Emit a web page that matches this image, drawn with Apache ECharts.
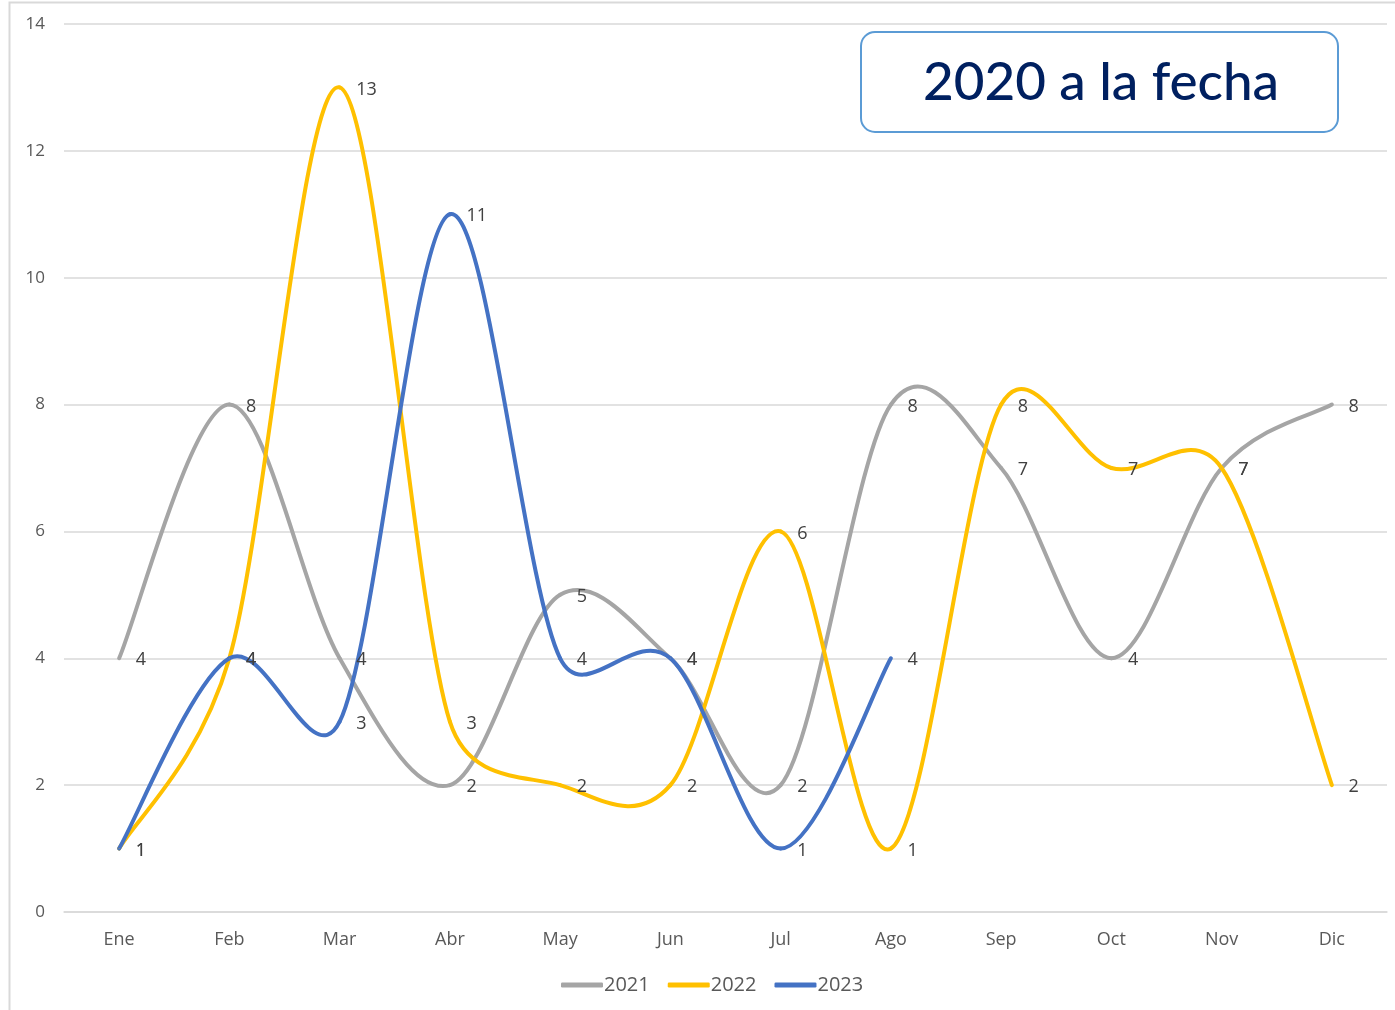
<!DOCTYPE html>
<html><head><meta charset="utf-8">
<script src="https://cdn.jsdelivr.net/npm/echarts@6/dist/echarts.min.js"></script>
<style>html,body{margin:0;padding:0;background:#fff}#c{width:1395px;height:1010px}</style>
</head><body><div id="c"></div>
<script>
const months = ['Ene','Feb','Mar','Abr','May','Jun','Jul','Ago','Sep','Oct','Nov','Dic'];
const s2021 = [4,8,4,2,5,4,2,8,7,4,7,8];
const s2022 = [1,4,13,3,2,2,6,1,8,7,7,2];
const s2023 = [1,4,3,11,4,4,1,4];
const seriesNames = ['2021','2022','2023'];
const seriesColors = ['#A5A5A5','#FFC000','#4472C4'];
const yTicks = {min:0, max:14, interval:2};
const titleText = '2020 a la fecha';

const allData = [s2021, s2022, s2023];

// Excel-like smoothed curve: Catmull-Rom Bezier (1/6) with arm length limited to half the segment
function excelSegments(pts){
  const segs = [];
  const n = pts.length;
  const dist = (a,b)=>Math.hypot(a[0]-b[0], a[1]-b[1]);
  for (let i=0;i<n-1;i++){
    const p0 = pts[Math.max(i-1,0)], p1 = pts[i], p2 = pts[i+1], p3 = pts[Math.min(i+2,n-1)];
    const d12 = dist(p1,p2), d02 = dist(p0,p2), d13 = dist(p1,p3);
    const f1 = (d02/6 < d12/2 || d02===0) ? 1/6 : (d12/2)/d02;
    const f2 = (d13/6 < d12/2 || d13===0) ? 1/6 : (d12/2)/d13;
    segs.push({x1:p1[0], y1:p1[1], x2:p2[0], y2:p2[1],
      cpx1:p1[0]+f1*(p2[0]-p0[0]), cpy1:p1[1]+f1*(p2[1]-p0[1]),
      cpx2:p2[0]-f2*(p3[0]-p1[0]), cpy2:p2[1]-f2*(p3[1]-p1[1])});
  }
  return segs;
}

function curveSeries(name, vals, color){
  return {
    name, type:'custom', z:2, silent:true,
    data: vals.map((v,i)=>[i,v]),
    encode:{x:0, y:1},
    renderItem:function(params, api){
      if (params.dataIndex !== 0) return null;
      const pts = vals.map((v,i)=>api.coord([i, v]));
      return {type:'group', children: excelSegments(pts).map(s=>({
        type:'bezierCurve', shape:s,
        style:{fill:null, stroke:color, lineWidth:4, lineCap:'round', lineJoin:'round'}
      }))};
    }
  };
}
function labelSeries(name, vals, color){
  return {
    name, type:'line', data:vals, symbol:'circle', symbolSize:1, z:3,
    itemStyle:{color}, lineStyle:{color, width:4, opacity:0},
    label:{show:true, position:'right', distance:15, offset:[1,2], color:'#404040', fontSize:18, fontFamily:'Open Sans'},
    emphasis:{disabled:true}, silent:true
  };
}

const series = [];
seriesNames.forEach((n,k)=>series.push(labelSeries(n, allData[k], seriesColors[k])));
seriesNames.forEach((n,k)=>series.push(curveSeries(n, allData[k], seriesColors[k])));

const chart = echarts.init(document.getElementById('c'));
chart.setOption({
  animation:false,
  grid:{left:64, right:8, top:24, bottom:98},
  xAxis:{type:'category', data:months, boundaryGap:true,
    axisLine:{show:true, lineStyle:{color:'#d9d9d9', width:1.5}}, axisTick:{show:false},
    axisLabel:{color:'#595959', fontSize:18, margin:19, fontFamily:'Open Sans'}},
  yAxis:{type:'value', min:yTicks.min, max:yTicks.max, interval:yTicks.interval,
    axisLine:{show:false}, axisTick:{show:false},
    splitLine:{lineStyle:{color:'#d9d9d9', width:1.5}},
    axisLabel:{color:'#595959', fontSize:17, margin:19, fontFamily:'Open Sans', padding:[2,0,0,0]}},
  legend:{left:556, top:970, icon:'roundRect', itemWidth:42, itemHeight:5, itemGap:18,
    textStyle:{color:'#595959', fontSize:20, fontFamily:'Open Sans', padding:[0,0,0,-4]},
    data:seriesNames},
  series,
  graphic:[
    {type:'rect', shape:{x:9.5, y:2.5, width:1400, height:1020}, style:{fill:'none', stroke:'#d9d9d9', lineWidth:2}, silent:true, z:-1},
    {type:'rect', shape:{x:861, y:32, width:477, height:100, r:14}, style:{fill:'#fff', stroke:'#5B9BD5', lineWidth:2}, z:10},
    {type:'text', x:1101, y:83, style:{text:titleText, fill:'#002060', font:'500 53px "Lato"', align:'center', verticalAlign:'middle'}, z:11}
  ]
});
</script></body></html>
